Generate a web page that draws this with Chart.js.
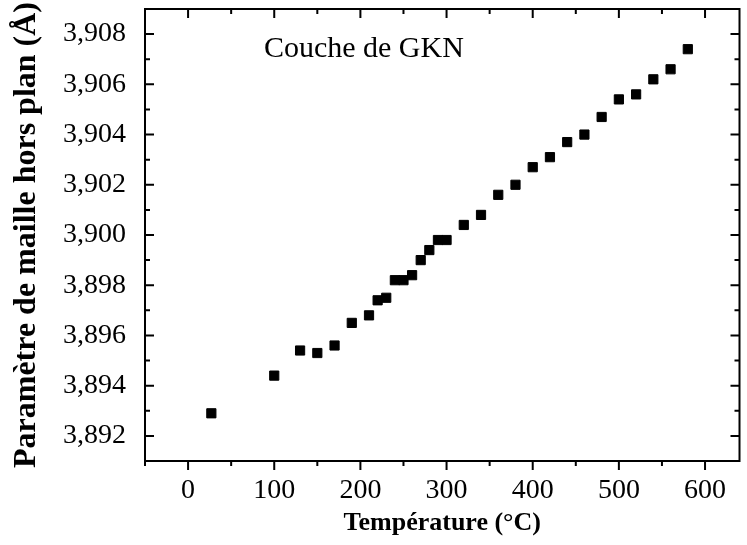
<!DOCTYPE html>
<html>
<head>
<meta charset="utf-8">
<script src="https://cdn.jsdelivr.net/npm/chart.js@4"></script>
<style>
  html, body { margin: 0; padding: 0; background: #fff; }
  #wrap { width: 747px; height: 545px; }
</style>
</head>
<body>
<div id="wrap"><canvas id="latticeChart"></canvas></div>
<script>
// temperatures (°C) and out-of-plane lattice parameter (Å)
const temperatures = [27, 100, 130, 150, 170, 190, 210, 220, 230, 240, 250, 260, 270, 280, 290,
    300, 320, 340, 360, 380, 400, 420, 440, 460, 480, 500, 520, 540, 560, 580];
const latticeParam = [3.8929, 3.8944, 3.8954, 3.8953, 3.8956, 3.8965, 3.8968, 3.8974, 3.8975, 3.8982,
    3.8982, 3.8984, 3.8990, 3.8994, 3.8998, 3.8998, 3.9004, 3.9008, 3.9016, 3.9020,
    3.9027, 3.9031, 3.9037, 3.9040, 3.9047, 3.9054, 3.9056, 3.9062, 3.9066, 3.9074];

const xTicks = [0, 100, 200, 300, 400, 500, 600];
const yTicks = [3.892, 3.894, 3.896, 3.898, 3.900, 3.902, 3.904, 3.906, 3.908];
const xMinor = [-50, 50, 150, 250, 350, 450, 550];
const yMinor = [3.891, 3.893, 3.895, 3.897, 3.899, 3.901, 3.903, 3.905, 3.907, 3.909];

const seriesLabel = "Couche de GKN";

const points = temperatures.map((t, i) => ({ x: t, y: latticeParam[i] }));

// frame + inward ticks (bottom ones outward), like the original plot
const framePlugin = {
    id: "frame",
    afterDraw(chart) {
        const ctx = chart.ctx;
        const a = chart.chartArea;
        const xs = chart.scales.x;
        const ys = chart.scales.y;
        ctx.save();
        ctx.strokeStyle = "#000";
        ctx.lineWidth = 2;
        ctx.strokeRect(a.left, a.top, a.right - a.left, a.bottom - a.top);
        ctx.beginPath();
        const tickX = (v, len) => {
            const px = xs.getPixelForValue(v);
            if (px < a.left || px > a.right) return;
            ctx.moveTo(px, a.bottom); ctx.lineTo(px, a.bottom + len);
            ctx.moveTo(px, a.top); ctx.lineTo(px, a.top + len);
        };
        const tickY = (v, len) => {
            const py = ys.getPixelForValue(v);
            if (py < a.top - 1 || py > a.bottom + 1) return;
            ctx.moveTo(a.left, py); ctx.lineTo(a.left + len, py);
            ctx.moveTo(a.right, py); ctx.lineTo(a.right - len, py);
        };
        xTicks.forEach(v => tickX(v, 9));
        xMinor.forEach(v => tickX(v, 5));
        yTicks.forEach(v => tickY(v, 9));
        yMinor.forEach(v => tickY(v, 5));
        ctx.stroke();

        ctx.fillStyle = "#000";
        ctx.font = "30px 'Liberation Serif', 'Times New Roman', serif";
        ctx.textBaseline = "middle";
        ctx.textAlign = "left";
        ctx.fillText(seriesLabel, xs.getPixelForValue(88), ys.getPixelForValue(3.9074));
        ctx.restore();
    }
};

const canvas = document.getElementById("latticeChart");
const chart = new Chart(canvas, {
    type: "scatter",
    data: {
        datasets: [{
            label: seriesLabel,
            data: points,
            pointStyle: "rect",
            pointRadius: 6.5,
            pointHoverRadius: 6.5,
            backgroundColor: "#000",
            borderColor: "#000",
            borderWidth: 1
        }]
    },
    options: {
        responsive: true,
        maintainAspectRatio: false,
        animation: false,
        layout: { padding: { top: 9, right: 1, left: 0, bottom: 0 } },
        plugins: {
            legend: { display: false },
            tooltip: { enabled: false }
        },
        scales: {
            x: {
                type: "linear",
                min: -50,
                max: 640,
                grid: { display: false },
                border: { display: false },
                afterBuildTicks: s => { s.ticks = xTicks.map(v => ({ value: v })); },
                afterFit: s => { s.height = 84; s.paddingLeft = 0; s.paddingRight = 0; },
                ticks: {
                    color: "#000",
                    padding: 5,
                    maxRotation: 0,
                    font: { family: "'Liberation Serif', 'Times New Roman', serif", size: 28 }
                },
                title: {
                    display: true,
                    text: "Température (°C)",
                    color: "#000",
                    padding: { top: 0, bottom: 6 },
                    font: { family: "'Liberation Serif', 'Times New Roman', serif", size: 26, weight: "bold" }
                }
            },
            y: {
                type: "linear",
                min: 3.891,
                max: 3.909,
                grid: { display: false },
                border: { display: false },
                afterBuildTicks: s => { s.ticks = yTicks.map(v => ({ value: v })); },
                afterFit: s => { s.width = 145; s.paddingTop = 0; s.paddingBottom = 0; },
                ticks: {
                    color: "#000",
                    padding: 11,
                    callback: v => v.toFixed(3).replace(".", ","),
                    font: { family: "'Liberation Serif', 'Times New Roman', serif", size: 28 }
                },
                title: {
                    display: true,
                    text: "Paramètre de maille hors plan (Å)",
                    color: "#000",
                    padding: { top: 8, bottom: 0 },
                    font: { family: "'Liberation Serif', 'Times New Roman', serif", size: 32, weight: "bold" }
                }
            }
        }
    },
    plugins: [framePlugin]
});
</script>
</body>
</html>
